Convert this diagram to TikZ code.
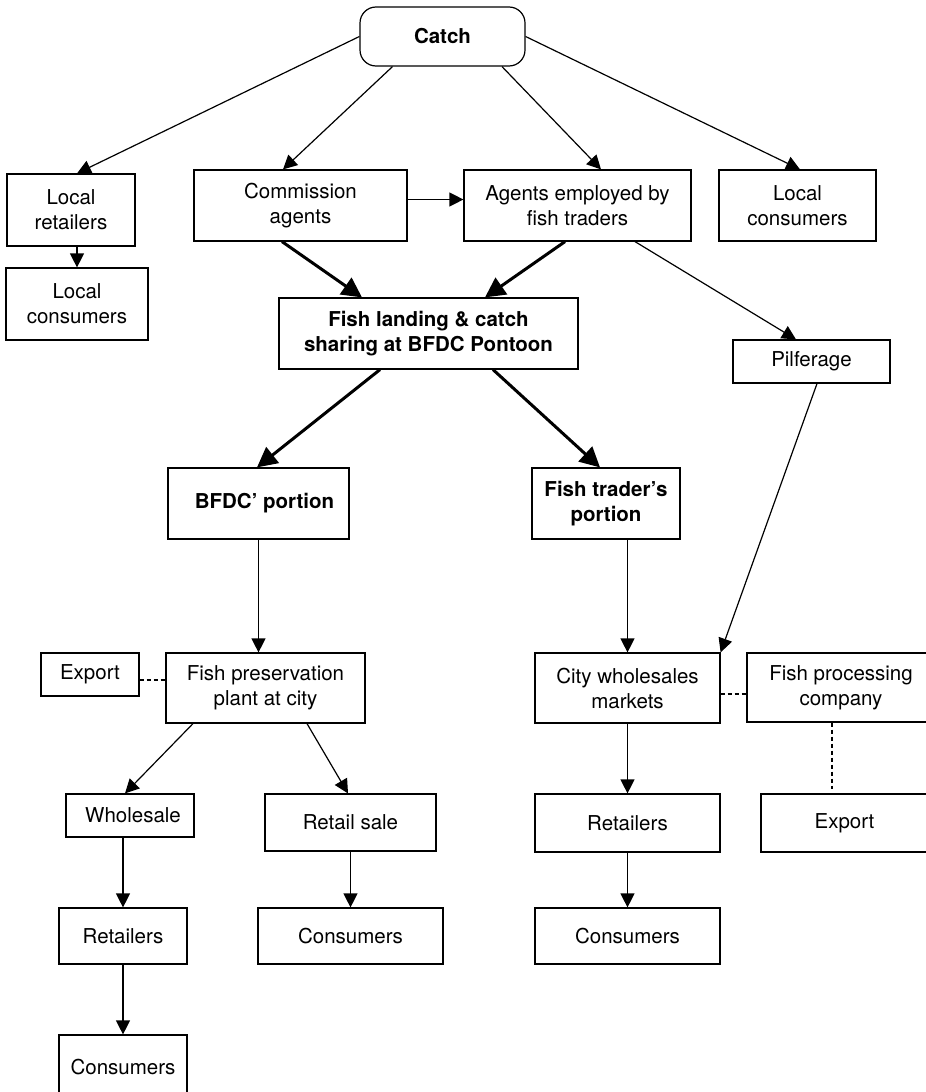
\documentclass[tikz,border=0pt]{standalone}
\usepackage{fontspec}
\setmainfont{TeX Gyre Heros}
\usetikzlibrary{arrows.meta}
\begin{document}
\begin{tikzpicture}[x=1pt,y=-1pt,
  every node/.style={font=\fontsize{20.5}{25}\selectfont},
  box/.style={draw, line width=1.2pt, rectangle, inner sep=0pt, align=center},
  flow/.style={line width=1.2pt, -{Triangle[length=14pt,width=14pt]}},
  bigflow/.style={line width=3pt, -{Triangle[length=20pt,width=20pt]}},
  link/.style={line width=1.2pt, dash pattern=on 4pt off 3pt}]
\useasboundingbox (0,0) rectangle (926,1092);

% top level
\node[box, rounded corners=16pt, minimum width=165pt, minimum height=59pt, font=\fontsize{20.5}{25}\selectfont\bfseries] (catch) at (442.5,36.5) {Catch};
\node[box, minimum width=128pt, minimum height=72pt] (lret) at (71,210) {Local\\retailers};
\node[box, minimum width=142pt, minimum height=72pt] (lcon1) at (77,304) {Local\\consumers};
\node[box, minimum width=213pt, minimum height=71pt] (comm) at (300.5,205.5) {Commission\\agents};
\node[box, minimum width=227pt, minimum height=71pt] (agents) at (577.5,205.5) {Agents employed by\\fish traders};
\node[box, minimum width=157pt, minimum height=71pt] (lcon2) at (797.5,205.5) {Local\\consumers};

% landing and sharing
\node[box, minimum width=299pt, minimum height=71pt, font=\fontsize{20.5}{25}\selectfont\bfseries] (landing) at (428.5,333.5) {Fish landing \& catch\\sharing at BFDC Pontoon};
\node[box, minimum width=157pt, minimum height=43pt] (pilf) at (811.5,361.5) {Pilferage};
\node[box, minimum width=181pt, minimum height=71pt, font=\fontsize{20.5}{25}\selectfont\bfseries] (bfdc) at (258.5,503.5) {\hspace*{12pt}BFDC’ portion};
\node[box, minimum width=148pt, minimum height=71pt, font=\fontsize{20.5}{25}\selectfont\bfseries] (trader) at (606,503.5) {Fish trader’s\\portion};

% city level
\node[box, minimum width=98pt, minimum height=43pt] (exp1) at (90,674.5) {Export};
\node[box, minimum width=199pt, minimum height=70pt] (pres) at (265.5,688) {Fish preservation\\plant at city};
\node[box, minimum width=185pt, minimum height=70pt] (city) at (627.5,688) {City wholesales\\markets};
\node[box, minimum width=188pt, minimum height=69pt] (proc) at (841,687.5) {Fish processing\\company};

% sales
\node[box, minimum width=128pt, minimum height=43pt] (whole) at (130,815.5) {\hspace*{6pt}Wholesale};
\node[box, minimum width=171pt, minimum height=57pt] (retail) at (350.5,822.5) {Retail sale};
\node[box, minimum width=185pt, minimum height=58pt] (ret2) at (627.5,823) {Retailers};
\node[box, minimum width=167pt, minimum height=58pt] (exp2) at (844.5,823) {Export};
\node[box, minimum width=128pt, minimum height=56pt] (ret1) at (123,936) {Retailers};
\node[box, minimum width=185pt, minimum height=56pt] (con2) at (350.5,936) {Consumers};
\node[box, minimum width=185pt, minimum height=56pt] (con3) at (627.5,936) {Consumers};
\node[box, minimum width=128pt, minimum height=64pt] (con1) at (123,1067) {Consumers};

% connectors from the catch
\draw[flow] (catch.west) -- ([xshift=6pt]lret.north);
\draw[flow] ([xshift=-50pt]catch.south) -- ([xshift=-17.5pt]comm.north);
\draw[flow] ([xshift=59.5pt]catch.south) -- ([xshift=23.5pt]agents.north);
\draw[flow] (catch.east) -- ([xshift=2.5pt]lcon2.north);
\draw[flow] ([yshift=6pt]comm.east) -- ([yshift=6pt]agents.west);
\draw[flow] ([xshift=6pt]lret.south) -- (lcon1.north);

% to and from the landing
\draw[bigflow] ([xshift=-18.5pt]comm.south) -- ([xshift=-66.5pt]landing.north);
\draw[bigflow] ([xshift=-12.5pt]agents.south) -- ([xshift=56.5pt]landing.north);
\draw[flow] ([xshift=57.5pt]agents.south) -- ([xshift=-15.5pt]pilf.north);
\draw[bigflow] ([xshift=-48.5pt]landing.south) -- ([xshift=-1.5pt]bfdc.north);
\draw[bigflow] ([xshift=64.5pt]landing.south) -- ([xshift=-6pt]trader.north);

% portions to the city
\draw[flow] (bfdc.south) -- (bfdc.south |- pres.north);
\draw[flow] (trader.south -| city.north) -- (city.north);
\draw[flow] ([xshift=5.5pt]pilf.south) -- (city.north east);
\draw[link] ([yshift=-5.5pt]exp1.east) -- ([yshift=-5.5pt]exp1.east -| pres.west);
\draw[link] ([yshift=-6pt]city.east) -- ([yshift=-6pt]city.east -| proc.west);
\draw[link] ([xshift=-9pt]proc.south) -- ([xshift=-9pt,yshift=4pt]proc.south |- exp2.north);

% down to the consumers
\draw[flow] ([xshift=-72.5pt]pres.south) -- ([xshift=-5pt]whole.north);
\draw[flow] ([xshift=41.5pt]pres.south) -- ([xshift=-2.5pt]retail.north);
\draw[flow] (whole.south -| ret1.north) -- (ret1.north);
\draw[flow] (ret1.south) -- (con1.north);
\draw[flow] (retail.south) -- (con2.north);
\draw[flow] (city.south) -- (ret2.north);
\draw[flow] (ret2.south) -- (con3.north);
\end{tikzpicture}
\end{document}
